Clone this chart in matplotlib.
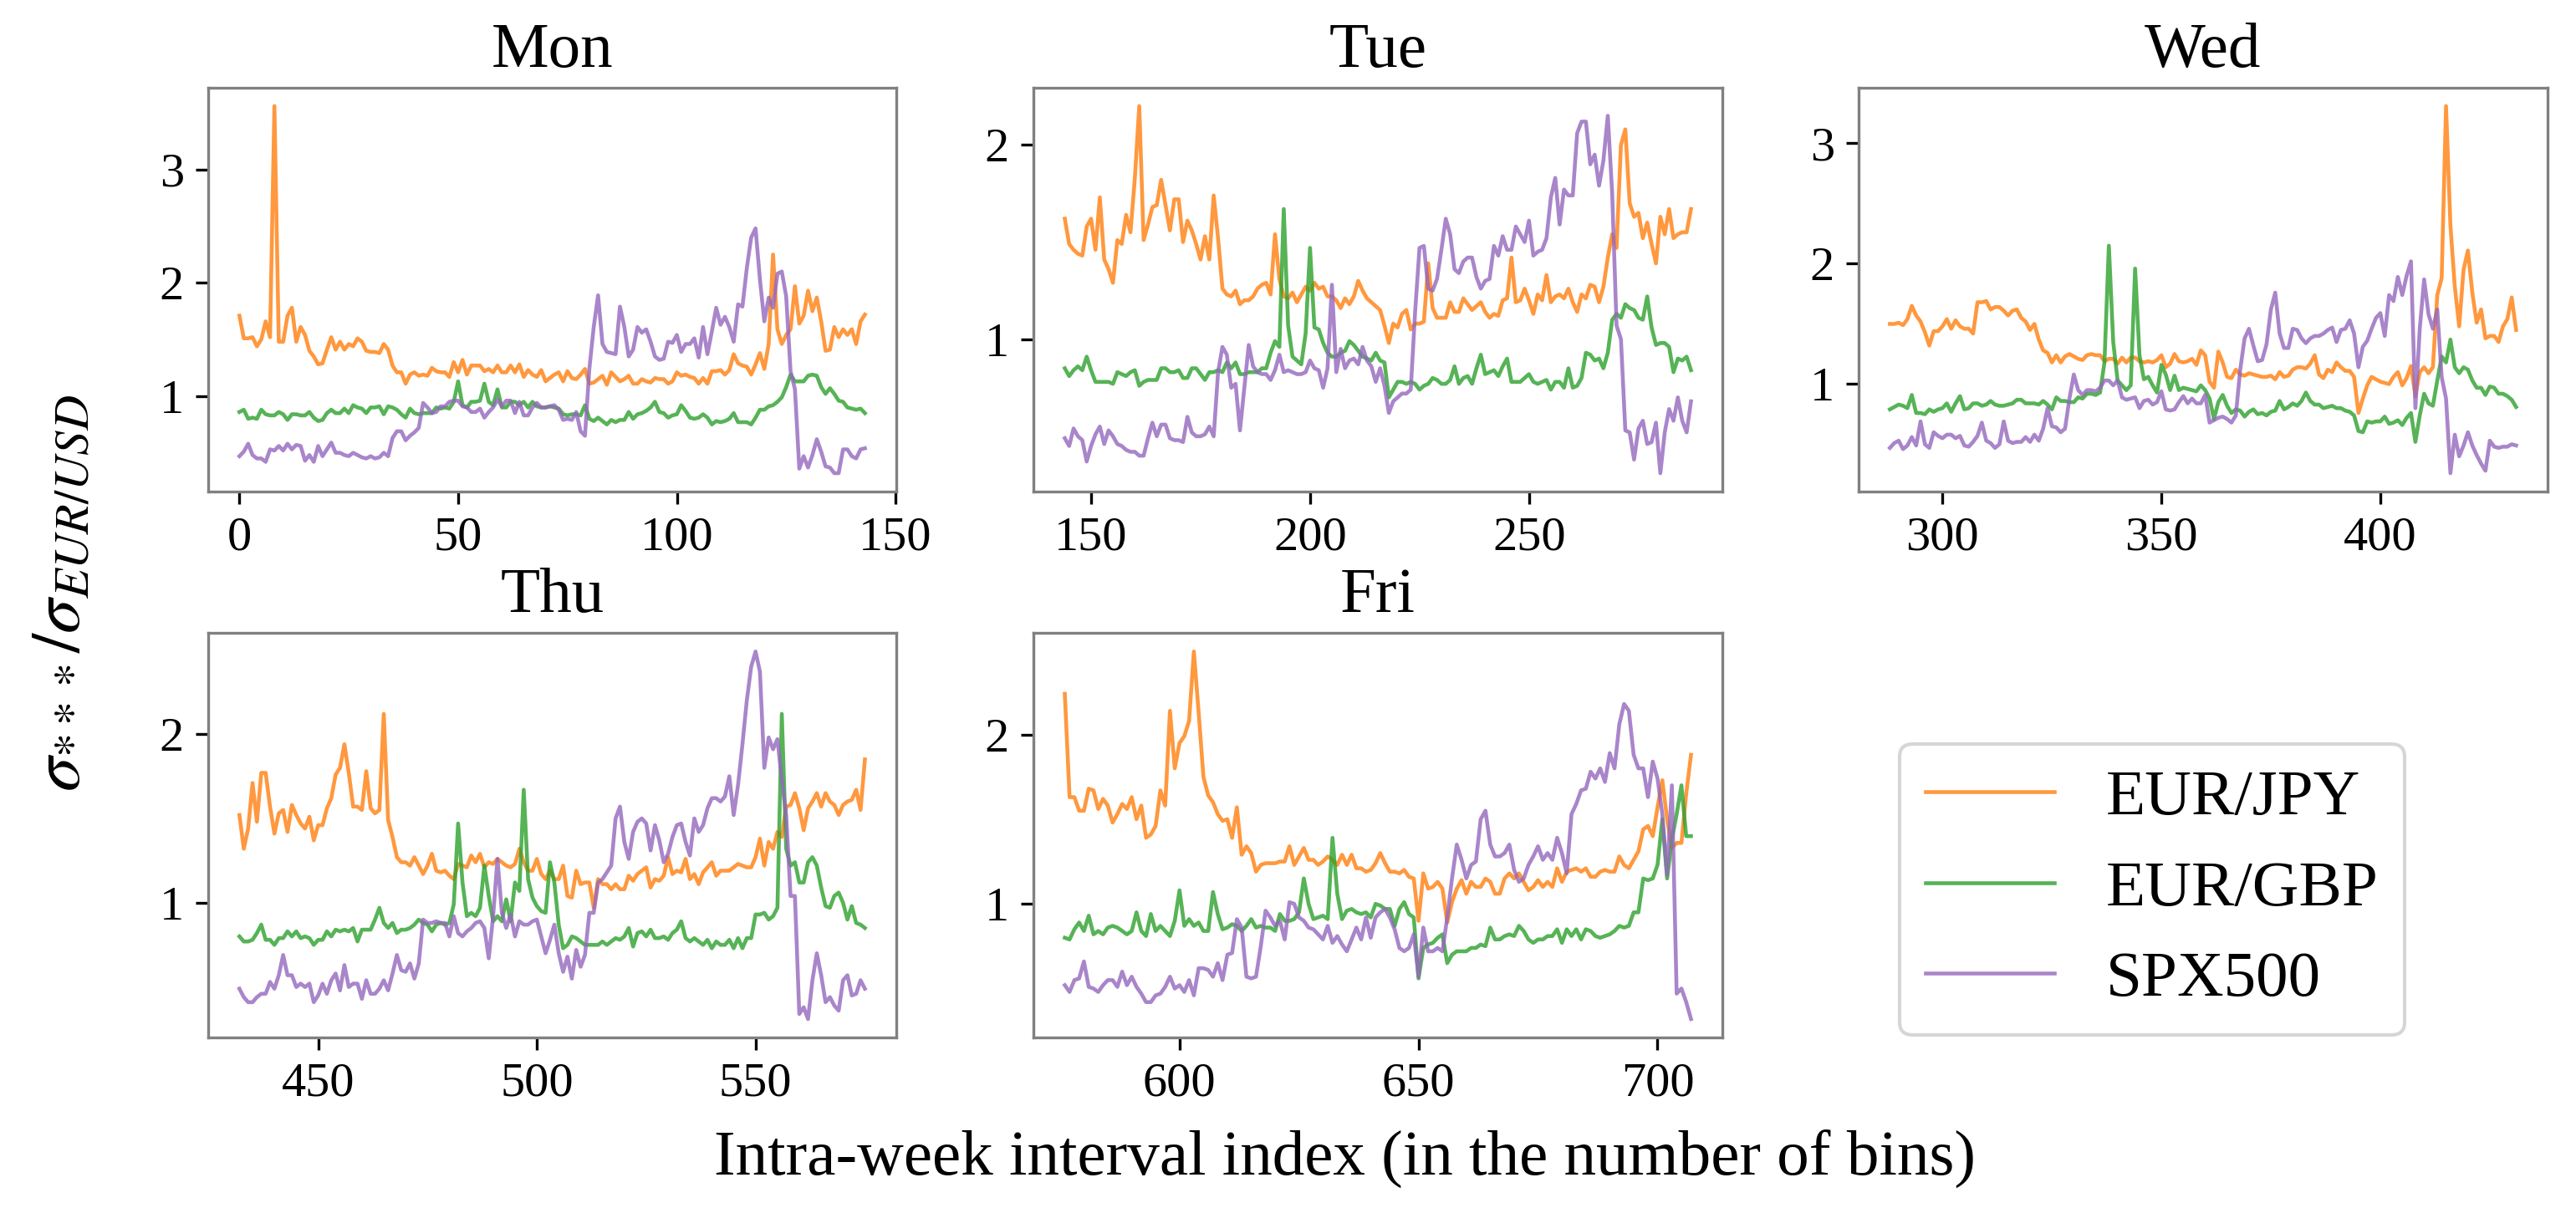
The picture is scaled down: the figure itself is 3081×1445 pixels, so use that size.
import numpy as np
import matplotlib
matplotlib.use("Agg")
import matplotlib.pyplot as plt
from matplotlib.ticker import MultipleLocator

plt.rcParams['font.family'] = ['Liberation Serif', 'DejaVu Serif']
plt.rcParams['mathtext.fontset'] = 'stix'

days = ['Mon', 'Tue', 'Wed', 'Thu', 'Fri']
day_start = [0, 144, 288, 432, 576]
names = ['EUR/JPY', 'EUR/GBP', 'SPX500']
colors = ['tab:orange', 'tab:green', 'tab:purple']

# sigma ratio per bin
mon_jpy = [1.71, 1.51, 1.51, 1.52, 1.44, 1.50, 1.66, 1.52, 3.56, 1.48,
           1.48, 1.71, 1.78, 1.48, 1.61, 1.54, 1.40, 1.35, 1.28, 1.29,
           1.41, 1.52, 1.41, 1.48, 1.41, 1.46, 1.44, 1.51, 1.48, 1.40,
           1.39, 1.39, 1.38, 1.46, 1.41, 1.27, 1.21, 1.21, 1.11, 1.19,
           1.21, 1.18, 1.19, 1.18, 1.25, 1.22, 1.21, 1.21, 1.17, 1.30,
           1.21, 1.32, 1.19, 1.27, 1.27, 1.27, 1.22, 1.24, 1.21, 1.27,
           1.21, 1.21, 1.27, 1.21, 1.28, 1.17, 1.23, 1.19, 1.17, 1.23,
           1.13, 1.16, 1.19, 1.21, 1.13, 1.22, 1.16, 1.15, 1.19, 1.24,
           1.11, 1.12, 1.15, 1.18, 1.10, 1.21, 1.17, 1.13, 1.15, 1.18,
           1.11, 1.11, 1.15, 1.13, 1.12, 1.16, 1.15, 1.15, 1.11, 1.13,
           1.21, 1.18, 1.19, 1.17, 1.16, 1.11, 1.16, 1.11, 1.22, 1.22,
           1.23, 1.19, 1.23, 1.37, 1.29, 1.27, 1.26, 1.19, 1.28, 1.38,
           1.24, 1.46, 2.25, 1.59, 1.46, 1.54, 1.59, 1.97, 1.64, 1.71,
           1.93, 1.75, 1.87, 1.66, 1.40, 1.41, 1.61, 1.52, 1.59, 1.54,
           1.59, 1.46, 1.66, 1.72]
mon_gbp = [0.86, 0.88, 0.80, 0.81, 0.80, 0.88, 0.84, 0.83, 0.83, 0.86,
           0.84, 0.79, 0.84, 0.84, 0.83, 0.83, 0.86, 0.81, 0.78, 0.79,
           0.85, 0.88, 0.85, 0.85, 0.89, 0.85, 0.92, 0.90, 0.89, 0.85,
           0.90, 0.90, 0.91, 0.84, 0.91, 0.90, 0.88, 0.84, 0.81, 0.89,
           0.85, 0.84, 0.85, 0.85, 0.85, 0.90, 0.89, 0.90, 0.89, 0.95,
           1.13, 0.92, 0.90, 0.95, 0.95, 0.96, 1.11, 0.95, 0.92, 1.06,
           0.90, 0.90, 0.95, 0.95, 0.92, 0.95, 0.90, 0.95, 0.91, 0.90,
           0.90, 0.91, 0.90, 0.89, 0.84, 0.83, 0.84, 0.84, 0.83, 0.92,
           0.80, 0.78, 0.81, 0.78, 0.75, 0.79, 0.77, 0.79, 0.79, 0.86,
           0.80, 0.84, 0.85, 0.87, 0.90, 0.95, 0.86, 0.85, 0.81, 0.83,
           0.84, 0.92, 0.87, 0.81, 0.80, 0.81, 0.84, 0.81, 0.75, 0.78,
           0.77, 0.78, 0.80, 0.85, 0.77, 0.77, 0.77, 0.75, 0.81, 0.88,
           0.88, 0.91, 0.92, 0.95, 0.99, 1.08, 1.19, 1.13, 1.13, 1.13,
           1.18, 1.19, 1.18, 1.08, 1.02, 1.07, 1.02, 0.96, 0.95, 0.90,
           0.89, 0.88, 0.89, 0.85]
mon_spx = [0.47, 0.51, 0.58, 0.48, 0.45, 0.45, 0.42, 0.53, 0.52, 0.56,
           0.52, 0.58, 0.53, 0.57, 0.56, 0.43, 0.48, 0.42, 0.56, 0.47,
           0.53, 0.59, 0.50, 0.50, 0.48, 0.47, 0.50, 0.48, 0.46, 0.45,
           0.47, 0.45, 0.46, 0.50, 0.47, 0.63, 0.69, 0.69, 0.61, 0.65,
           0.68, 0.72, 0.94, 0.90, 0.85, 0.86, 0.91, 0.91, 0.95, 0.96,
           0.96, 0.91, 0.90, 0.86, 0.86, 0.89, 0.81, 0.86, 0.90, 0.97,
           0.91, 0.96, 0.96, 0.85, 0.95, 0.83, 0.83, 0.90, 0.94, 0.90,
           0.90, 0.91, 0.92, 0.88, 0.79, 0.80, 0.79, 0.86, 0.69, 0.65,
           1.24, 1.61, 1.89, 1.46, 1.39, 1.38, 1.37, 1.79, 1.61, 1.35,
           1.41, 1.61, 1.56, 1.59, 1.48, 1.35, 1.32, 1.33, 1.48, 1.47,
           1.54, 1.39, 1.46, 1.46, 1.51, 1.34, 1.61, 1.37, 1.57, 1.78,
           1.63, 1.70, 1.61, 1.48, 1.81, 1.79, 2.13, 2.40, 2.48, 2.03,
           1.66, 1.87, 1.78, 2.08, 2.10, 1.88, 1.22, 1.06, 0.36, 0.47,
           0.37, 0.48, 0.62, 0.51, 0.38, 0.37, 0.32, 0.32, 0.53, 0.53,
           0.47, 0.45, 0.53, 0.54]

tue_jpy = [1.62, 1.49, 1.46, 1.44, 1.43, 1.58, 1.62, 1.46, 1.73, 1.41,
           1.36, 1.29, 1.51, 1.49, 1.64, 1.55, 1.83, 2.20, 1.51, 1.59,
           1.68, 1.69, 1.82, 1.69, 1.56, 1.72, 1.72, 1.50, 1.61, 1.56,
           1.49, 1.41, 1.53, 1.41, 1.74, 1.52, 1.26, 1.23, 1.22, 1.25,
           1.18, 1.20, 1.20, 1.22, 1.26, 1.28, 1.29, 1.23, 1.54, 1.31,
           1.22, 1.21, 1.24, 1.19, 1.23, 1.27, 1.25, 1.29, 1.26, 1.27,
           1.22, 1.22, 1.20, 1.16, 1.21, 1.18, 1.22, 1.30, 1.25, 1.21,
           1.19, 1.17, 1.15, 1.07,
           0.98, 1.08, 1.06, 1.13, 1.15, 1.05, 1.08, 1.08, 1.09, 1.39,
           1.16, 1.11, 1.11, 1.11, 1.19, 1.14, 1.14, 1.21, 1.18, 1.15,
           1.17, 1.19, 1.14, 1.11, 1.13, 1.12, 1.20, 1.21, 1.42, 1.19,
           1.20, 1.26, 1.20, 1.13, 1.23, 1.20, 1.33, 1.19, 1.22, 1.23,
           1.21, 1.26, 1.19, 1.14, 1.23, 1.21, 1.28, 1.27, 1.19, 1.27,
           1.42, 1.54, 1.47, 2.00, 2.08, 1.70, 1.63, 1.65, 1.52, 1.60,
           1.49, 1.39, 1.63, 1.54, 1.67, 1.52, 1.54, 1.55, 1.55, 1.67]
tue_gbp = [0.85, 0.81, 0.84, 0.86, 0.84, 0.91, 0.84, 0.78, 0.78, 0.78,
           0.78, 0.77, 0.83, 0.82, 0.81, 0.83, 0.84, 0.76, 0.78, 0.79,
           0.79, 0.79, 0.85, 0.85, 0.83, 0.83, 0.84, 0.80, 0.80, 0.85,
           0.85, 0.82, 0.79, 0.83, 0.83, 0.84, 0.83, 0.88, 0.85, 0.88,
           0.82, 0.82, 0.83, 0.83, 0.83, 0.85, 0.85, 0.93, 0.99, 0.96,
           1.67, 1.07, 0.91, 0.89, 0.87, 1.03, 1.47, 1.06, 1.05, 0.98,
           0.93, 0.91, 0.91, 0.93, 0.94, 0.99, 0.97, 0.94, 0.91, 0.90,
           0.89, 0.93, 0.89, 0.88,
           0.70, 0.74, 0.78, 0.78, 0.77, 0.78, 0.77, 0.74, 0.76, 0.77,
           0.80, 0.79, 0.77, 0.77, 0.79, 0.86, 0.77, 0.80, 0.81, 0.77,
           0.85, 0.92, 0.82, 0.83, 0.84, 0.81, 0.86, 0.90, 0.78, 0.78,
           0.78, 0.80, 0.82, 0.78, 0.77, 0.78, 0.79, 0.74, 0.78, 0.78,
           0.75, 0.85, 0.75, 0.76, 0.80, 0.93, 0.92, 0.89, 0.90, 0.85,
           0.93, 1.10, 1.13, 1.11, 1.18, 1.16, 1.15, 1.11, 1.10, 1.22,
           1.06, 0.97, 0.98, 0.98, 0.96, 0.83, 0.90, 0.89, 0.91, 0.84]
tue_spx = [0.49, 0.45, 0.54, 0.50, 0.48, 0.37, 0.45, 0.51, 0.55, 0.46,
           0.53, 0.50, 0.46, 0.45, 0.43, 0.42, 0.42, 0.40, 0.40, 0.49,
           0.57, 0.50, 0.56, 0.56, 0.49, 0.48, 0.48, 0.47, 0.60, 0.52,
           0.50, 0.50, 0.51, 0.55, 0.50, 0.83, 0.96, 0.92, 0.75, 0.77,
           0.53, 0.75, 0.97, 0.86, 0.83, 0.82, 0.82, 0.79, 0.84, 0.92,
           0.83, 0.84, 0.83, 0.82, 0.82, 0.83, 0.89, 0.85, 0.84, 0.75,
           0.85, 1.28, 0.83, 0.95, 0.85, 0.89, 0.90, 0.87, 0.96, 0.89,
           0.86, 0.78, 0.85, 0.76,
           0.62, 0.68, 0.70, 0.72, 0.72, 0.74, 1.14, 1.47, 1.48, 1.26,
           1.25, 1.31, 1.46, 1.62, 1.54, 1.36, 1.34, 1.40, 1.42, 1.42,
           1.32, 1.26, 1.30, 1.31, 1.48, 1.43, 1.53, 1.46, 1.46, 1.58,
           1.54, 1.50, 1.61, 1.43, 1.45, 1.46, 1.52, 1.73, 1.83, 1.59,
           1.77, 1.74, 1.74, 2.06, 2.12, 2.12, 1.90, 1.95, 1.79, 1.92,
           2.15, 1.75, 1.07, 1.00, 0.53, 0.52, 0.38, 0.54, 0.58, 0.46,
           0.47, 0.57, 0.31, 0.52, 0.64, 0.58, 0.70, 0.58, 0.52, 0.68]

wed_jpy = [1.50, 1.50, 1.51, 1.49, 1.54, 1.65, 1.57, 1.52, 1.43, 1.32,
           1.44, 1.44, 1.48, 1.54, 1.46, 1.53, 1.48, 1.46, 1.46, 1.42,
           1.68, 1.68, 1.69, 1.62, 1.64, 1.64, 1.61, 1.57, 1.61, 1.62,
           1.55, 1.52, 1.45, 1.50, 1.37, 1.28, 1.26, 1.18, 1.24, 1.18,
           1.23, 1.25, 1.23, 1.21, 1.20, 1.24, 1.25, 1.24, 1.24, 1.19,
           1.21, 1.21, 1.17, 1.22, 1.18, 1.22, 1.22, 1.19, 1.18, 1.19,
           1.18, 1.20, 1.24, 1.14, 1.17, 1.25, 1.19, 1.18, 1.19, 1.21,
           1.16, 1.28, 1.24, 1.02, 0.97, 1.27, 1.18, 1.06, 1.05, 1.12,
           1.08, 1.07, 1.09, 1.08, 1.07, 1.06, 1.06, 1.07, 1.04, 1.10,
           1.06, 1.07, 1.12, 1.14, 1.14, 1.13, 1.17, 1.24, 1.08, 1.05,
           1.12, 1.10, 1.18, 1.14, 1.11, 1.11, 1.06, 0.76, 0.88, 0.99,
           1.06, 1.04, 1.02, 1.01, 1.00, 1.06, 1.10, 0.99, 1.05, 1.15,
           0.90, 1.10, 1.14, 1.09, 1.14, 1.74, 1.88, 3.31, 2.32, 1.81,
           1.48, 1.95, 2.11, 1.76, 1.51, 1.62, 1.38, 1.40, 1.40, 1.35,
           1.48, 1.54, 1.72, 1.45]
wed_gbp = [0.79, 0.81, 0.83, 0.82, 0.80, 0.91, 0.76, 0.76, 0.75, 0.79,
           0.77, 0.79, 0.80, 0.84, 0.77, 0.84, 0.90, 0.79, 0.80, 0.84,
           0.84, 0.82, 0.83, 0.86, 0.83, 0.82, 0.82, 0.83, 0.84, 0.87,
           0.87, 0.84, 0.84, 0.84, 0.83, 0.86, 0.83, 0.79, 0.89, 0.86,
           0.86, 0.85, 0.85, 0.89, 0.88, 0.92, 0.92, 0.91, 0.93, 1.18,
           2.15, 1.35, 1.03, 0.99, 0.95, 0.99, 1.96, 1.24, 1.04, 1.06,
           0.99, 0.93, 1.16, 1.08, 0.95, 1.07, 0.95, 0.97, 0.96, 0.95,
           0.94, 0.99, 0.95, 0.88, 0.71, 0.85, 0.91, 0.82, 0.76, 0.79,
           0.78, 0.73, 0.77, 0.79, 0.75, 0.76, 0.74, 0.77, 0.78, 0.86,
           0.79, 0.81, 0.84, 0.82, 0.86, 0.93, 0.86, 0.83, 0.83, 0.80,
           0.81, 0.82, 0.80, 0.80, 0.78, 0.77, 0.74, 0.61, 0.60, 0.69,
           0.68, 0.69, 0.69, 0.73, 0.67, 0.68, 0.70, 0.66, 0.72, 0.76,
           0.52, 0.74, 0.92, 0.84, 0.82, 1.03, 1.23, 1.18, 1.37, 1.14,
           1.09, 1.14, 1.12, 1.03, 0.97, 0.97, 0.91, 0.98, 0.97, 0.92,
           0.92, 0.90, 0.87, 0.81]
wed_spx = [0.47, 0.51, 0.53, 0.46, 0.49, 0.56, 0.49, 0.69, 0.50, 0.47,
           0.60, 0.57, 0.55, 0.58, 0.58, 0.55, 0.57, 0.49, 0.48, 0.52,
           0.57, 0.68, 0.53, 0.51, 0.47, 0.50, 0.69, 0.53, 0.51, 0.52,
           0.52, 0.56, 0.52, 0.58, 0.53, 0.63, 0.80, 0.65, 0.64, 0.60,
           0.63, 0.88, 1.08, 0.95, 0.91, 0.95, 0.95, 0.94, 0.97, 1.03,
           1.03, 0.99, 1.03, 0.89, 0.87, 0.88, 0.89, 0.80, 0.86, 0.87,
           0.83, 0.85, 0.94, 0.79, 0.78, 0.79, 0.85, 0.90, 0.84, 0.88,
           0.84, 0.84, 0.91, 0.68, 0.70, 0.72, 0.73, 0.71, 0.68, 0.74,
           1.12, 1.38, 1.46, 1.32, 1.19, 1.20, 1.33, 1.62, 1.76, 1.42,
           1.30, 1.30, 1.46, 1.45, 1.38, 1.34, 1.38, 1.40, 1.40, 1.42,
           1.45, 1.47, 1.35, 1.45, 1.46, 1.53, 1.42, 1.14, 1.31, 1.36,
           1.46, 1.55, 1.59, 1.40, 1.74, 1.69, 1.89, 1.74, 1.90, 2.02,
           0.80, 1.46, 1.87, 1.58, 1.46, 1.62, 1.06, 0.88, 0.26, 0.58,
           0.40, 0.49, 0.60, 0.49, 0.41, 0.34, 0.28, 0.53, 0.48, 0.47,
           0.48, 0.48, 0.50, 0.49]

thu_jpy = [1.52, 1.32, 1.44, 1.71, 1.48, 1.77, 1.77, 1.57, 1.41, 1.53,
           1.55, 1.42, 1.58, 1.52, 1.47, 1.44, 1.51, 1.37, 1.46, 1.46,
           1.56, 1.62, 1.76, 1.80, 1.94, 1.77, 1.57, 1.57, 1.55, 1.78,
           1.56, 1.53, 1.55, 2.12, 1.49, 1.39, 1.27, 1.24, 1.24, 1.22,
           1.27, 1.22, 1.17, 1.22, 1.29, 1.19, 1.18, 1.19, 1.16, 1.14,
           1.23, 1.22, 1.21, 1.28, 1.24, 1.29, 1.21, 1.24, 1.23, 1.26,
           1.24, 1.22, 1.21, 1.23, 1.32, 1.24, 1.19, 1.19, 1.26, 1.17,
           1.14, 1.19, 1.14, 1.14, 1.22, 1.04, 1.03, 1.19, 1.11, 1.12,
           1.12, 0.97, 1.14, 1.11, 1.11, 1.08, 1.11, 1.08, 1.08, 1.16,
           1.13, 1.17, 1.19, 1.21, 1.09, 1.14, 1.13, 1.16, 1.27, 1.17,
           1.19, 1.18, 1.26, 1.14, 1.17, 1.11, 1.18, 1.21, 1.24, 1.16,
           1.19, 1.19, 1.19, 1.21, 1.23, 1.22, 1.21, 1.21, 1.27, 1.38,
           1.22, 1.36, 1.32, 1.42, 1.39, 1.57, 1.58, 1.65, 1.56, 1.43,
           1.56, 1.60, 1.65, 1.57, 1.65, 1.60, 1.58, 1.52, 1.58, 1.60,
           1.61, 1.67, 1.55, 1.85]
thu_gbp = [0.80, 0.77, 0.77, 0.78, 0.82, 0.87, 0.78, 0.78, 0.75, 0.79,
           0.79, 0.83, 0.80, 0.83, 0.79, 0.80, 0.79, 0.75, 0.78, 0.78,
           0.83, 0.80, 0.84, 0.83, 0.84, 0.83, 0.85, 0.77, 0.84, 0.84,
           0.84, 0.90, 0.97, 0.88, 0.85, 0.88, 0.82, 0.84, 0.84, 0.85,
           0.87, 0.90, 0.88, 0.87, 0.83, 0.87, 0.88, 0.87, 0.88, 0.99,
           1.47, 1.12, 0.92, 0.94, 0.92, 0.97, 1.22, 1.04, 0.89, 0.92,
           0.89, 1.02, 0.89, 1.12, 1.07, 1.67, 1.14, 1.03, 0.98, 0.95,
           0.94, 1.24, 1.12, 0.87, 0.73, 0.75, 0.80, 0.79, 0.77, 0.75,
           0.75, 0.75, 0.75, 0.77, 0.75, 0.77, 0.79, 0.78, 0.80, 0.85,
           0.74, 0.82, 0.83, 0.80, 0.84, 0.79, 0.79, 0.80, 0.78, 0.82,
           0.84, 0.89, 0.79, 0.77, 0.79, 0.77, 0.75, 0.78, 0.73, 0.77,
           0.75, 0.75, 0.78, 0.73, 0.79, 0.73, 0.79, 0.79, 0.93, 0.93,
           0.94, 0.90, 0.92, 0.97, 2.12, 1.32, 1.22, 1.24, 1.12, 1.12,
           1.24, 1.27, 1.22, 1.09, 0.98, 0.97, 1.04, 1.06, 1.00, 0.90,
           0.98, 0.88, 0.87, 0.85]
thu_spx = [0.49, 0.44, 0.41, 0.41, 0.44, 0.46, 0.46, 0.53, 0.49, 0.57,
           0.69, 0.57, 0.57, 0.50, 0.52, 0.50, 0.52, 0.41, 0.45, 0.52,
           0.46, 0.54, 0.58, 0.48, 0.63, 0.50, 0.52, 0.52, 0.43, 0.54,
           0.46, 0.46, 0.49, 0.54, 0.48, 0.58, 0.69, 0.60, 0.59, 0.64,
           0.55, 0.64, 0.90, 0.88, 0.88, 0.89, 0.88, 0.88, 0.80, 0.92,
           0.82, 0.80, 0.83, 0.85, 0.88, 0.89, 0.85, 0.67, 0.92, 1.26,
           0.94, 0.85, 0.93, 0.80, 0.89,
           0.87, 0.87, 0.89, 0.90, 0.80, 0.70, 0.78, 0.87, 0.70, 0.59,
           0.68, 0.55, 0.72, 0.62, 0.69, 0.94, 0.94, 1.12, 1.14, 1.18,
           1.22, 1.50, 1.57, 1.36, 1.26, 1.42, 1.48, 1.50, 1.47, 1.31,
           1.46, 1.37, 1.24, 1.29, 1.39, 1.46, 1.47, 1.36, 1.28, 1.50,
           1.42, 1.46, 1.56, 1.62, 1.62, 1.60, 1.63, 1.75, 1.52,
           1.70, 1.94, 2.20, 2.40, 2.49, 2.37, 1.80, 1.98, 1.91, 1.97,
           1.73, 1.52, 1.04, 1.04, 0.34, 0.38, 0.31, 0.54, 0.70, 0.57,
           0.41, 0.44, 0.39, 0.36, 0.54, 0.57, 0.45, 0.46, 0.54, 0.49]

fri_jpy = [2.24, 1.63, 1.63, 1.55, 1.55, 1.68, 1.67, 1.56, 1.62, 1.58,
           1.48, 1.53, 1.59, 1.56, 1.63, 1.50, 1.58, 1.39, 1.41, 1.46,
           1.67, 1.58, 2.14, 1.80, 1.95, 1.99, 2.08, 2.49, 2.13, 1.75,
           1.64, 1.60, 1.53, 1.49, 1.50, 1.39, 1.57, 1.29, 1.34, 1.30,
           1.19, 1.23, 1.24, 1.24, 1.24, 1.25, 1.25, 1.34, 1.23, 1.28,
           1.33, 1.26, 1.26, 1.23, 1.25, 1.28, 1.26, 1.23, 1.29, 1.23,
           1.29, 1.21, 1.21, 1.19, 1.20, 1.24, 1.30, 1.24, 1.19, 1.19,
           1.18, 1.20, 1.16, 1.15, 0.90, 1.18, 1.09, 1.10, 1.13, 1.09,
           0.89, 1.01, 1.09, 1.14, 1.06, 1.13, 1.10, 1.10, 1.15, 1.13,
           1.06, 1.06, 1.15, 1.18, 1.15, 1.18, 1.13, 1.08, 1.10, 1.14,
           1.10, 1.13, 1.10, 1.21, 1.13, 1.19, 1.20, 1.21, 1.19, 1.21,
           1.16, 1.16, 1.19, 1.20, 1.19, 1.19, 1.28, 1.23, 1.21, 1.26,
           1.31, 1.44, 1.46, 1.40, 1.57, 1.73, 1.50, 1.33, 1.36, 1.36,
           1.65, 1.88]
fri_gbp = [0.80, 0.79, 0.85, 0.89, 0.84, 0.93, 0.82, 0.84, 0.82, 0.86,
           0.87, 0.86, 0.84, 0.82, 0.84, 0.95, 0.84, 0.81, 0.94, 0.84,
           0.87, 0.84, 0.81, 0.90, 1.08, 0.87, 0.91, 0.87, 0.89, 0.84,
           0.84, 1.07, 0.94, 0.85, 0.86, 0.88, 0.87, 0.84, 0.87, 0.91,
           0.86, 0.87, 0.86, 0.86, 0.84, 0.94, 0.90, 0.90, 0.91, 0.95,
           1.15, 1.00, 0.91, 0.92, 0.93, 0.91, 1.39, 1.06, 0.91, 0.96,
           0.97, 0.95, 0.94, 0.95, 0.92, 1.00, 0.99, 0.97, 0.97, 0.87,
           0.97, 1.01, 0.94, 0.92, 0.56, 0.74, 0.76, 0.77, 0.80, 0.82,
           0.65, 0.70, 0.72, 0.72, 0.72, 0.74, 0.74, 0.76, 0.75, 0.86,
           0.79, 0.79, 0.81, 0.82, 0.81, 0.87, 0.84, 0.79, 0.77, 0.79,
           0.79, 0.81, 0.81, 0.85, 0.77, 0.85, 0.81, 0.85, 0.79, 0.85,
           0.84, 0.81, 0.80, 0.81, 0.82, 0.84, 0.87, 0.86, 0.87, 0.95,
           0.95, 1.15, 1.14, 1.15, 1.23, 1.50, 1.15, 1.38, 1.53, 1.70,
           1.40, 1.40]
fri_spx = [0.52, 0.48, 0.55, 0.56, 0.66, 0.51, 0.50, 0.48, 0.52, 0.55,
           0.55, 0.51, 0.60, 0.52, 0.57, 0.51, 0.47, 0.42, 0.42, 0.46,
           0.47, 0.51, 0.57, 0.50, 0.52, 0.48, 0.55, 0.46, 0.62, 0.62,
           0.61, 0.57, 0.65, 0.55, 0.70, 0.71, 0.91, 0.86, 0.57, 0.56,
           0.57, 0.75, 0.96, 0.92, 0.87, 0.90, 0.79, 1.01, 1.00, 0.92,
           0.90, 0.86, 0.85, 0.82, 0.79, 0.87, 0.77, 0.81, 0.76, 0.72,
           0.79, 0.86, 0.79, 0.92, 0.80, 0.92, 0.95, 0.97, 0.92, 0.85,
           0.74, 0.72, 0.74, 0.82, 0.57, 0.86, 0.72, 0.72, 0.74, 0.72,
           0.92, 1.15, 1.35, 1.26, 1.15, 1.23, 1.25, 1.50, 1.55, 1.35,
           1.28, 1.28, 1.30, 1.35, 1.20, 1.13, 1.15, 1.23, 1.28, 1.34,
           1.26, 1.30, 1.26, 1.39, 1.30, 1.18, 1.53, 1.59, 1.67, 1.68,
           1.78, 1.74, 1.80, 1.72, 1.89, 1.80, 2.06, 2.18, 2.14, 1.88,
           1.80, 1.80, 1.63, 1.84, 1.74, 1.53, 1.17, 1.70, 0.47, 0.50,
           0.42, 0.32]

jpy = [mon_jpy, tue_jpy, wed_jpy, thu_jpy, fri_jpy]
gbp = [mon_gbp, tue_gbp, wed_gbp, thu_gbp, fri_gbp]
spx = [mon_spx, tue_spx, wed_spx, thu_spx, fri_spx]

fig = plt.figure(figsize=(3081 / 300, 1445 / 300), dpi=300)

# axes boxes (left, bottom, width, height) in figure fraction
boxes = [[0.0808, 0.5931, 0.2671, 0.3343],
         [0.4012, 0.5931, 0.2674, 0.3343],
         [0.7215, 0.5931, 0.2674, 0.3343],
         [0.0808, 0.1412, 0.2671, 0.3347],
         [0.4012, 0.1412, 0.2674, 0.3347]]

handles = []
for i, day in enumerate(days):
    ax = fig.add_axes(boxes[i])
    x = np.arange(day_start[i], day_start[i] + len(jpy[i]))
    for ys, c, n in zip([jpy[i], gbp[i], spx[i]], colors, names):
        line, = ax.plot(x, ys, color=c, lw=1.1, alpha=0.8, label=n)
        if i == 0:
            handles.append(line)
    ax.set_title(day, fontsize=18.5)
    ax.xaxis.set_major_locator(MultipleLocator(50))
    ax.yaxis.set_major_locator(MultipleLocator(1))
    ax.tick_params(labelsize=14)
    for s in ax.spines.values():
        s.set_color('0.5')

fig.legend(handles, names, loc='center', bbox_to_anchor=(0.8355, 0.2637),
           fontsize=18.5)

fig.text(0.522, 0.027, 'Intra-week interval index (in the number of bins)',
         ha='center', va='baseline', fontsize=18.5)
fig.text(0.0243, 0.509, r'$\sigma_{***}/\sigma_{EUR/USD}$', rotation=90,
         ha='center', va='center', fontsize=20)

fig.savefig('out.png', dpi=300)
